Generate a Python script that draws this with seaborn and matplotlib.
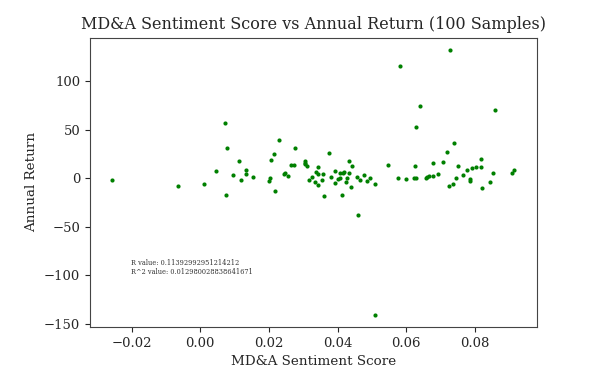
import seaborn as sns
import matplotlib.pyplot as plt
import pandas as pd

# values
sentiment = [
    -0.0257, -0.0064, 0.0010, 0.0071, 0.0078, 0.0114, 0.0046, 0.0095, 0.0134, 0.0134,
    0.0120, 0.0075, 0.0153, 0.0200, 0.0203, 0.0217, 0.0205, 0.0214, 0.0231, 0.0245,
    0.0248, 0.0257, 0.0264, 0.0272, 0.0276, 0.0305, 0.0306, 0.0304, 0.0312, 0.0325,
    0.0316, 0.0333, 0.0338, 0.0342, 0.0344, 0.0343, 0.0356, 0.0358, 0.0374, 0.0362,
    0.0380, 0.0394, 0.0393, 0.0401, 0.0406, 0.0407, 0.0415, 0.0420, 0.0414, 0.0425,
    0.0428, 0.0434, 0.0433, 0.0443, 0.0438, 0.0458, 0.0466, 0.0476, 0.0487, 0.0495,
    0.0509, 0.0547, 0.0577, 0.0461, 0.0508, 0.0583, 0.0600, 0.0622, 0.0628, 0.0625,
    0.0628, 0.0641, 0.0657, 0.0661, 0.0667, 0.0677, 0.0677, 0.0694, 0.0706, 0.0720,
    0.0727, 0.0740, 0.0726, 0.0735, 0.0745, 0.0751, 0.0766, 0.0777, 0.0787, 0.0787,
    0.0793, 0.0804, 0.0818, 0.0819, 0.0821, 0.0844, 0.0854, 0.0860, 0.0907, 0.0914,
]
annual_return = [
    -1.7, -8.3, -6.2, 56.5, 31.7, 17.5, 8.0, 3.4, 9.0, 4.5,
    -1.7, -17.5, 1.4, -2.7, 0.7, -13.0, 18.6, 24.8, 39.6, 4.1,
    5.2, 2.4, 13.4, 13.4, 30.7, 17.9, 15.8, 14.5, 12.7, 1.4,
    -2.0, -3.8, 6.2, 4.4, 11.4, -7.2, -1.3, 4.8, 25.8, -17.9,
    1.4, 7.9, -4.5, -0.3, 0.3, 5.1, 5.5, 6.5, -17.5, -3.8,
    0.3, 5.9, 17.6, 12.4, -9.0, 1.4, -2.1, 3.8, -2.4, 0.7,
    -5.5, 14.1, 0.3, -37.9, -140.5, 115.7, -0.3, 0.7, 0.7, 12.4,
    52.7, 74.4, 0.3, 1.7, 2.8, 2.4, 15.5, 4.4, 16.5, 26.9,
    132.2, 36.8, -8.3, -5.5, 0.0, 13.1, 3.8, 8.6, -1.0, -2.8,
    10.6, 12.1, 11.7, 20.0, -10.3, -4.1, 5.1, 70.6, 5.9, 8.3,
]
r_value = 0.11392992951214212
r2_value = 0.012980028838641671

df = pd.DataFrame({'Sentiment': sentiment, 'Return': annual_return})

sns.set_style("ticks")
plt.rcParams['font.family'] = ['DejaVu Serif']

fig = plt.figure(figsize=(6.04, 3.86), dpi=100)
ax = fig.add_axes([0.149, 0.153, 0.740, 0.749])

sns.scatterplot(
    data=df,
    x='Sentiment',
    y='Return',
    color='g',
    s=9,
    linewidth=0,
    ax=ax
)

ax.text(-0.0201, -92, f"R value: {r_value}\nR^2 value: {r2_value}",
        fontsize=4.8, va='center', color='#333333')

ax.set_xlim(-0.0321, 0.0981)
ax.set_ylim(-153, 144.6)

ax.set_title("MD&A Sentiment Score vs Annual Return (100 Samples)", fontsize=11.5)
ax.set_xlabel("MD&A Sentiment Score", fontsize=9.7)
ax.set_ylabel("Annual Return", fontsize=9.7)
ax.tick_params(labelsize=9.5)
ax.set_yticks([-150, -100, -50, 0, 50, 100])

for s in ax.spines.values():
    s.set_color('#444444')

fig.savefig("out.png", dpi=100)
